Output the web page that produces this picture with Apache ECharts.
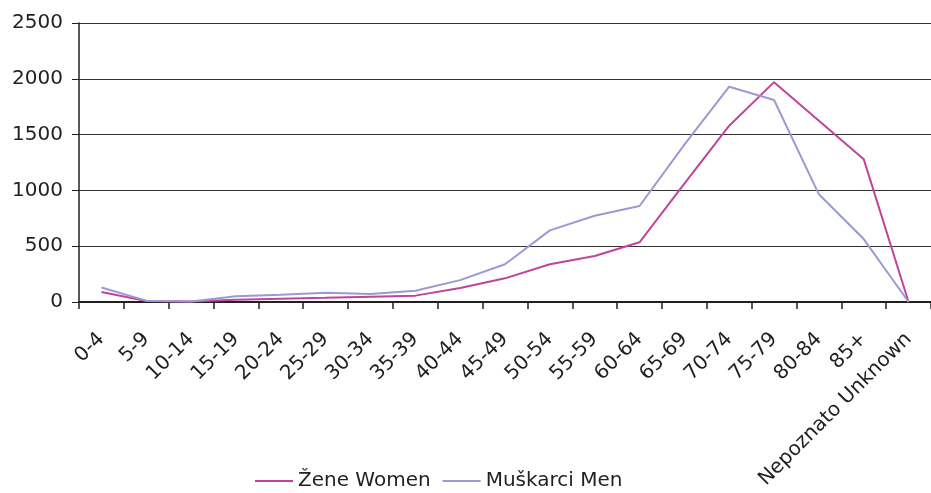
<html lang="en">
<head>
    <meta http-equiv="Content-Type" content="text/html; charset=UTF-8">
    <script type="text/javascript" src="https://cdn.jsdelivr.net/npm/echarts@6/dist/echarts.min.js"></script>
    <style>body{margin:0;background:#fff;}</style>
</head>
<body>
<div id="main" style="height:493px;width:931px;"></div>
<script type="text/javascript">
    // dobne skupine
    var categories = ['0-4', '5-9', '10-14', '15-19', '20-24', '25-29', '30-34', '35-39', '40-44', '45-49',
        '50-54', '55-59', '60-64', '65-69', '70-74', '75-79', '80-84', '85+', 'Nepoznato Unknown'];
    var women = [90, 9, 4, 20, 30, 38, 48, 57, 125, 212, 338, 412, 535, 1060, 1580, 1970, 1625, 1280, 0];
    var men = [130, 12, 5, 52, 66, 82, 72, 100, 196, 338, 642, 773, 860, 1410, 1929, 1810, 965, 564, 0];
    var yTicks = [0, 500, 1000, 1500, 2000, 2500];

    var myChart = echarts.init(document.getElementById('main'));
    var font = 'DejaVu Sans, sans-serif';

    var option = {
        animation: false,
        grid: {left: 79, right: -11, top: 23, bottom: 191},
        legend: {
            top: 471,
            left: 255,
            padding: 0,
            icon: 'rect',
            itemWidth: 38,
            itemHeight: 2,
            itemGap: 12,
            textStyle: {fontFamily: font, fontSize: 20, color: '#231f20'},
            data: ['Žene Women', 'Muškarci Men']
        },
        xAxis: {
            type: 'category',
            data: categories,
            boundaryGap: true,
            axisLine: {lineStyle: {color: '#231f20', width: 2}},
            axisTick: {show: true, length: 7, lineStyle: {color: '#231f20', width: 1.5}},
            axisLabel: {rotate: 45, interval: 0, margin: 34, fontFamily: font, fontSize: 20, color: '#231f20'}
        },
        yAxis: {
            type: 'value',
            min: yTicks[0],
            max: yTicks[yTicks.length - 1],
            interval: 500,
            axisLine: {show: true, lineStyle: {color: '#231f20', width: 1.5}},
            axisTick: {show: true, length: 7, lineStyle: {color: '#231f20'}},
            axisLabel: {
                margin: 16, fontFamily: font, fontSize: 20, color: '#231f20',
                formatter: function (v) { return String(v); }
            },
            splitLine: {lineStyle: {color: '#333333', width: 1}}
        },
        series: [{
            name: 'Žene Women',
            type: 'line',
            symbol: 'none',
            data: women,
            lineStyle: {color: '#bf449b', width: 2},
            itemStyle: {color: '#bf449b'}
        }, {
            name: 'Muškarci Men',
            type: 'line',
            symbol: 'none',
            data: men,
            lineStyle: {color: '#9a9ad4', width: 2},
            itemStyle: {color: '#9a9ad4'}
        }]
    };

    myChart.setOption(option);
</script>
</body>
</html>
